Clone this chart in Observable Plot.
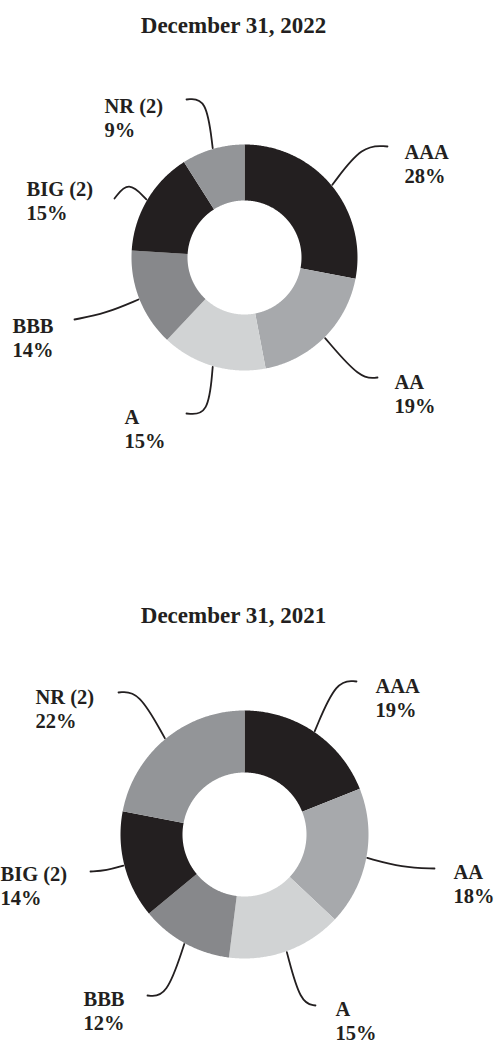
<!DOCTYPE html>
<html><head><meta charset="utf-8">
<script src="https://cdn.jsdelivr.net/npm/d3@7"></script>
<script src="https://cdn.jsdelivr.net/npm/@observablehq/plot@0.6"></script>
<style>body{margin:0;background:#fff} svg{display:block}</style>
</head><body><div id="chart"></div>
<script>
// ---- data ----
const ratings = ["AAA", "AA", "A", "BBB", "BIG (2)", "NR (2)"];
const share2022 = [28, 19, 15, 14, 15, 9];
const share2021 = [19, 18, 15, 12, 14, 22];
const titles = ["December 31, 2022", "December 31, 2021"];

// ---- styles ----
const sliceColors = ["#231f20", "#a7a9ac", "#d1d3d4", "#87888b", "#231f20", "#939598"];
const ink = "#231f20";

// ---- layout (pixel positions of the two panels, labels, leader bends) ----
const panels = [
  {title: titles[0], values: share2022, cx: 244, cy: 257, r0: 57, r1: 113, tx: 233, ty: 32,
   labels: [
     {lx: 404, ly: 158, cx: 362, cy: 144, ex: 387, ey: 146},
     {lx: 394, ly: 388, cx: 360, cy: 379, ex: 377, ey: 377},
     {lx: 124, ly: 423, cx: 208, cy: 415, ex: 186, ey: 413},
     {lx: 12,  ly: 332, cx: 105, cy: 313, ex: 74,  ey: 319},
     {lx: 26,  ly: 195, cx: 128, cy: 180, ex: 114, ey: 198},
     {lx: 104, ly: 112, cx: 206, cy: 97,  ex: 186, ey: 99}
   ]},
  {title: titles[1], values: share2021, cx: 244, cy: 834, r0: 62, r1: 124, tx: 233, ty: 622,
   labels: [
     {lx: 375, ly: 692,  cx: 336, cy: 679,  ex: 356, ey: 681},
     {lx: 453, ly: 878,  cx: 402, cy: 867,  ex: 434, ey: 868},
     {lx: 335, ly: 1015, cx: 300, cy: 1003, ex: 315, ey: 1005},
     {lx: 83,  ly: 1005, cx: 166, cy: 997,  ex: 147, ey: 995},
     {lx: 0,   ly: 880,  cx: 106, cy: 870,  ex: 90,  ey: 871},
     {lx: 35,  ly: 703,  cx: 138, cy: 690,  ex: 118, ey: 692}
   ]}
];

const slices = [], leaders = [], texts = [], titleRows = [];
panels.forEach((p, pi) => {
  titleRows.push({x: p.tx, y: p.ty, text: p.title});
  const total = d3.sum(p.values);
  let cum = 0;
  p.values.forEach((v, i) => {
    const a0 = cum / total * 2 * Math.PI;
    const a1 = (cum + v) / total * 2 * Math.PI;
    cum += v;
    const key = pi + "-" + i;
    const n = Math.max(2, Math.ceil((a1 - a0) / (Math.PI / 360)));
    for (let k = 0; k <= n; k++) {
      const a = a0 + (a1 - a0) * k / n;
      slices.push({key, x: p.cx + p.r1 * Math.sin(a), y: p.cy - p.r1 * Math.cos(a), fill: sliceColors[i]});
    }
    for (let k = n; k >= 0; k--) {
      const a = a0 + (a1 - a0) * k / n;
      slices.push({key, x: p.cx + p.r0 * Math.sin(a), y: p.cy - p.r0 * Math.cos(a), fill: sliceColors[i]});
    }
    const am = (a0 + a1) / 2;
    const L = p.labels[i];
    leaders.push(
      {key, x: p.cx + (p.r1 + 1) * Math.sin(am), y: p.cy - (p.r1 + 1) * Math.cos(am)},
      {key, x: L.cx, y: L.cy},
      {key, x: L.ex, y: L.ey}
    );
    texts.push({x: L.lx, y: L.ly, text: ratings[i]});
    texts.push({x: L.lx, y: L.ly + 24, text: v + "%"});
  });
});

const chart = Plot.plot({
  width: 495, height: 1042, margin: 0,
  x: {domain: [0, 495], range: [0, 495], axis: null},
  y: {domain: [0, 1042], range: [0, 1042], axis: null},
  color: {type: "identity"},
  style: {fontFamily: "'Liberation Serif', 'Times New Roman', serif", background: "#fff", color: ink},
  marks: [
    Plot.line(slices, {x: "x", y: "y", z: "key", fill: "fill", stroke: "none", curve: "linear"}),
    Plot.line(leaders, {x: "x", y: "y", z: "key", stroke: ink, strokeWidth: 1.8, curve: "basis"}),
    Plot.text(texts, {x: "x", y: "y", text: "text", textAnchor: "start", lineAnchor: "bottom", fontSize: 20.5, fontWeight: "bold", fill: ink}),
    Plot.text(titleRows, {x: "x", y: "y", text: "text", textAnchor: "middle", lineAnchor: "bottom", fontSize: 23, fontWeight: "bold", fill: ink})
  ]
});
document.getElementById("chart").append(chart);
</script>
</body></html>
